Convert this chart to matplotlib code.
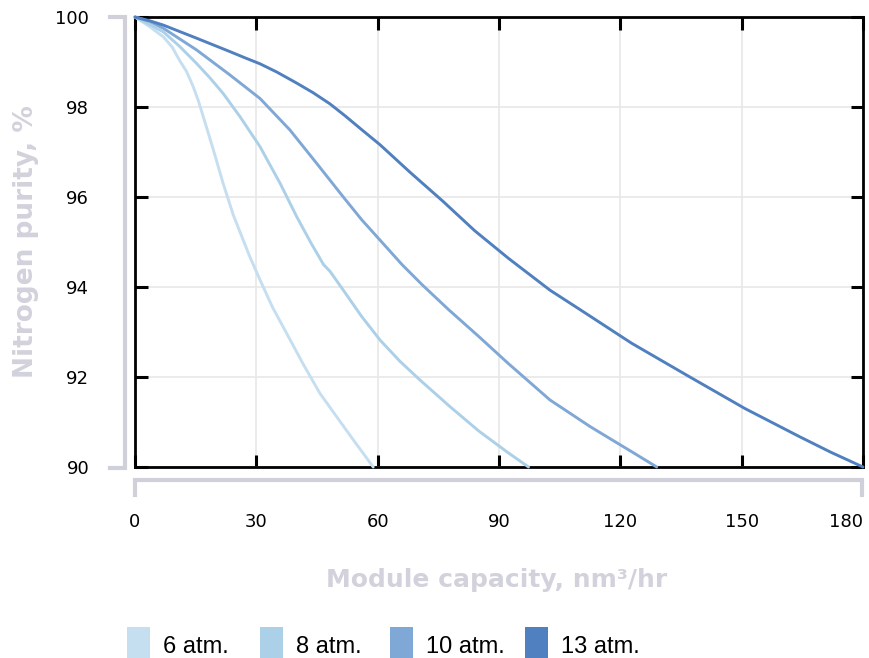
import matplotlib
matplotlib.use("Agg")
import matplotlib.pyplot as plt
from matplotlib.lines import Line2D
from matplotlib.patches import Rectangle

# data
cap_6 = [0, 3.7, 7, 9.2, 11, 12.8, 14.4, 15.7, 16.9, 19.4, 21.8, 24.3, 28.4, 30.9, 34, 37.5, 41.5,
         45.7, 50, 54, 58.9]
pur_6 = [100, 99.78, 99.56, 99.33, 99.04, 98.78, 98.45, 98.13, 97.78, 97.04, 96.3, 95.6, 94.67,
         94.16, 93.55, 92.97, 92.3, 91.64, 91.1, 90.6, 90.0]

cap_8 = [0, 3.7, 7, 11, 15.2, 18.5, 21.8, 26, 30.9, 35.9, 40, 43.5, 46.6, 48.2, 51.5, 56, 60.6,
         65.5, 70.5, 77.9, 85, 91.9, 97.3]
pur_8 = [100, 99.83, 99.67, 99.35, 98.97, 98.65, 98.3, 97.78, 97.12, 96.3, 95.56, 94.98, 94.5,
         94.35, 93.93, 93.35, 92.82, 92.35, 91.93, 91.34, 90.8, 90.34, 90.0]

cap_10 = [0, 3.7, 7, 15.2, 23.5, 30.9, 38.3, 44.9, 51.5, 56, 60.6, 66, 71, 77.5, 85, 92.3, 102.6,
          112.5, 118, 122.8, 129]
pur_10 = [100, 99.9, 99.75, 99.27, 98.71, 98.19, 97.49, 96.75, 96.0, 95.5, 95.04, 94.5, 94.05,
          93.5, 92.9, 92.3, 91.49, 90.9, 90.6, 90.34, 90.0]

cap_13 = [0, 3.5, 7, 15.2, 23.5, 27, 30.9, 35, 40, 44, 48.2, 52, 56, 60.6, 68, 76.2, 84, 92.3,
          102.6, 110, 122.8, 137.2, 150.8, 164.4, 172, 180]
pur_13 = [100, 99.92, 99.82, 99.53, 99.23, 99.1, 98.96, 98.78, 98.53, 98.32, 98.07, 97.8, 97.5,
          97.16, 96.55, 95.9, 95.25, 94.64, 93.93, 93.5, 92.75, 92.0, 91.3, 90.67, 90.33, 90.0]

labels = ["6 atm.", "8 atm.", "10 atm.", "13 atm."]
colors = ["#c6dff0", "#acd0e8", "#7fa8d6", "#5080c0"]

xticks = [0, 30, 60, 90, 120, 150, 180]
yticks = [90, 92, 94, 96, 98, 100]

W, H = 869, 658
fig = plt.figure(figsize=(W / 100, H / 100), dpi=100)
ax = fig.add_axes([135 / W, 1 - 467 / H, (863 - 135) / W, (467 - 17) / H])

for c, p, col in zip([cap_6, cap_8, cap_10, cap_13], [pur_6, pur_8, pur_10, pur_13], colors):
    ax.plot(c, p, color=col, lw=2.1, solid_capstyle="round", solid_joinstyle="round",
            clip_on=False, zorder=3)

ax.set_xlim(0, 180)
ax.set_ylim(90, 100)
ax.set_xticks(xticks)
ax.set_yticks(yticks)
ax.grid(True, color="#e8e8e8", lw=1.2)
ax.set_axisbelow(True)
for s in ax.spines.values():
    s.set_linewidth(2)
    s.set_color("black")
ax.tick_params(direction="in", length=9, width=2.2, top=True, right=True,
               labelsize=13, colors="black")
ax.tick_params(axis="y", pad=33)
ax.tick_params(axis="x", pad=33)
ax.get_xticklabels()[-1].set_horizontalalignment("right")

fig.text(497 / W, 1 - 580 / H, "Module capacity, nm³/hr", ha="center", va="center",
         fontsize=18, fontweight="bold", color="#d2d2dc")
fig.text(26 / W, 1 - 242 / H, "Nitrogen purity, %", ha="center", va="center", rotation=90,
         fontsize=19, fontweight="bold", color="#d2d2dc")


def px(x, y):
    return x / W, 1 - y / H


def seg(pts):
    xs, ys = zip(*[px(*p) for p in pts])
    fig.add_artist(Line2D(xs, ys, transform=fig.transFigure, color="#d0d0da", lw=3,
                          solid_joinstyle="miter"))


# gray brackets beside the axes
seg([(110, 17), (125, 17), (125, 468), (110, 468)])
seg([(135, 495), (135, 480), (862, 480), (862, 495)])

# legend along the bottom
lx = [127, 260, 390, 525]
for x0, lab, col in zip(lx, labels, colors):
    fig.add_artist(Rectangle(px(x0, 660), 23 / W, 33 / H, transform=fig.transFigure,
                             color=col, lw=0))
    fig.text((x0 + 36) / W, 1 - 647 / H, lab, ha="left", va="center", fontsize=17,
             family=["Liberation Sans", "DejaVu Sans"])

fig.savefig("out.png", dpi=100)
